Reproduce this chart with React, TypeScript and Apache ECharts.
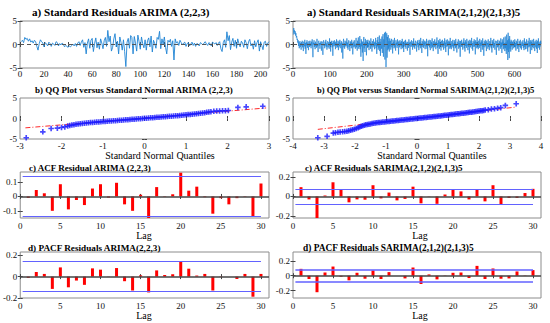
import React, { useEffect, useRef } from "react";
import * as echarts from "echarts";

// ---------- data ----------
const resArima = [
  0.6,0.9,0.4,1.5,1.1,1.3,0.7,1.2,0.5,0.8,0.3,0.9,0.6,-0.4,-1.2,0.2,1.0,0.6,0.3,-0.5,0.4,0.1,-0.3,
  0.5,0.2,-0.4,0.3,0.1,-0.2,0.6,0.4,-0.3,0.2,-0.1,0.3,0.1,-0.5,-0.2,-0.4,-0.6,-0.3,-0.5,-0.2,0.1,-0.3,0.2,
  -0.4,0.3,0.6,-0.2,0.5,1.0,-0.6,0.4,-2.0,0.3,1.2,-0.8,0.9,1.3,-1.5,0.2,1.4,-0.7,0.5,-1.0,1.2,0.3,-0.9,
  0.8,1.5,-0.4,3.0,0.6,1.8,-1.4,-0.6,1.2,2.3,-0.5,0.7,-2.0,1.6,0.4,-1.2,1.0,-1.5,-4.7,0.5,1.3,-0.8,1.9,
  1.5,-2.0,1.7,0.3,-1.4,2.0,0.6,-1.0,1.6,0.2,-0.7,1.0,-1.2,0.8,1.4,-0.5,1.8,-1.6,0.9,0.2,-0.8,1.5,1.1,
  2.8,-0.9,1.2,0.1,1.6,-0.6,-2.0,0.9,0.5,1.1,-0.4,0.8,-3.3,1.2,0.3,0.6,-0.2,0.9,0.4,-0.1,0.3,0.5,-0.4,
  0.2,0.4,-0.3,0.1,0.5,-0.2,0.3,-0.4,0.2,0.1,-0.3,0.4,0.2,-0.1,0.3,0.6,0.1,-0.2,0.4,0.2,-0.3,0.5,0.3,
  0.1,0.4,-0.2,0.3,0.6,-0.9,-1.5,0.4,1.0,-0.6,2.7,0.8,1.9,-1.1,0.5,1.3,-0.4,0.9,-0.8,1.2,0.2,-0.5,0.7,
  0.3,-0.6,1.0,0.4,-0.9,0.6,1.1,-0.3,0.2,-1.0,0.8,-0.5,0.4,1.0,-1.4,0.6,-0.2,-1.1,0.5,0.7,-0.4,0.3,0.6,
];

const resSarima = [
  2.1,3.5,2.6,3.0,2.2,2.8,1.9,2.4,1.5,1.8,1.0,1.2,0.4,0.9,-0.3,0.6,-0.8,0.2,0.7,-0.5,0.3,-1.1,0.5,-0.2,
  0.8,-0.6,0.1,-1.4,0.6,0.2,-0.4,1.0,-0.9,0.3,-2.0,0.5,-0.2,0.9,-0.7,0.4,-0.1,-1.2,0.7,0.1,-0.5,0.8,-0.3,0.2,
  -0.8,0.6,-0.2,1.1,-0.6,-2.7,0.4,0.0,0.9,-0.5,0.3,-1.0,0.6,-0.3,0.2,-0.7,1.2,-0.4,0.1,-1.6,0.5,0.8,-0.2,0.3,
  -0.9,0.4,-0.1,0.7,-1.3,0.2,0.6,-0.4,-2.2,0.5,0.9,-0.3,0.1,-0.8,0.6,-0.2,1.0,-0.5,0.2,-1.1,0.4,0.7,-0.6,0.0,
  0.5,-0.9,1.3,-0.3,0.2,-1.5,0.6,-0.1,0.8,-0.6,0.3,-2.4,0.7,0.1,-0.4,0.9,-0.2,0.4,-1.0,0.6,-0.3,1.1,-0.7,0.2,
  -0.5,0.8,-1.2,0.3,0.6,-0.4,1.0,-0.8,0.2,-0.1,0.7,-1.7,0.4,-0.3,-3.0,0.5,1.2,-0.6,0.3,-0.9,0.8,0.1,-0.4,0.6,
  -0.2,1.3,-0.7,0.4,-1.1,0.2,0.9,-0.5,0.1,-1.4,0.7,-0.3,0.5,-0.8,1.0,-0.2,0.3,-2.1,0.6,0.2,-0.6,0.9,-0.4,0.1,
  -0.9,0.5,1.4,-0.6,0.3,-1.3,0.8,-0.2,1.5,-0.9,0.4,-0.5,1.8,-1.0,0.2,-2.6,1.1,-0.4,0.7,-1.7,0.5,-3.5,0.9,1.6,
  -0.8,0.4,-1.6,1.2,-0.3,0.6,-2.3,0.9,0.2,-0.7,1.0,-0.5,0.3,-1.2,0.8,-0.1,0.5,-0.9,1.3,-0.4,0.2,-1.5,0.7,0.1,
  -0.6,1.1,-0.3,0.4,-1.0,0.6,-0.2,1.4,-0.8,0.3,-2.0,0.9,-0.4,1.6,-1.1,0.5,-0.7,1.9,-1.4,0.6,-2.4,1.2,0.2,-0.9,
  1.7,-1.8,0.8,2.2,-2.6,1.1,-0.5,2.5,-3.2,1.4,2.7,-4.8,0.9,2.4,-2.8,1.6,-1.2,2.0,-0.9,0.7,-1.5,1.3,-0.4,0.8,
  -1.1,0.5,1.2,-0.6,0.3,-1.9,1.0,-0.2,0.6,-0.8,1.4,-0.5,0.2,-1.3,0.9,-0.1,0.4,-0.7,1.1,-0.3,0.5,-2.1,0.8,0.1,
  -0.6,0.9,-0.2,0.4,-1.0,0.7,-0.4,1.2,-0.8,0.2,0.6,-1.6,0.3,-0.2,0.8,-0.5,1.0,-0.9,0.3,-0.1,0.6,-1.3,0.5,0.2,
  -0.7,1.1,-0.3,0.4,-2.2,0.6,0.1,-0.5,0.9,-0.2,0.3,-1.1,0.7,-0.4,1.3,-0.6,0.2,-0.9,0.5,0.8,-0.3,0.1,-1.5,0.6,
  -0.1,0.9,-0.6,0.3,-1.2,1.0,-0.2,0.5,-0.8,1.4,-0.4,0.2,-1.8,0.7,0.3,-0.5,1.1,-0.7,0.4,-0.2,0.8,-1.0,0.3,0.6,
  -0.4,1.2,-0.9,0.2,-2.5,0.8,0.4,-0.3,1.0,-0.6,0.1,-1.2,0.9,-0.2,0.5,-0.8,1.3,-0.5,0.2,-1.4,0.7,0.1,-0.6,1.1,
  -0.3,0.4,-1.0,0.6,-0.1,1.5,-0.7,0.3,-2.0,0.9,-0.4,0.6,-0.9,1.2,-0.2,0.4,-1.3,0.8,0.2,-0.6,1.0,-0.4,0.3,-1.1,
  0.7,-0.2,1.3,-0.8,0.4,-1.6,0.9,0.1,-0.5,1.1,-0.3,0.5,-2.3,0.8,-0.1,0.6,-0.9,1.4,-0.6,0.2,-1.0,0.7,0.3,-0.4,
  1.0,-0.7,0.2,-1.4,0.9,-0.3,0.5,-0.8,1.2,-0.5,0.1,-1.7,0.6,0.4,-0.2,1.1,-0.9,0.3,-0.6,0.8,-2.6,0.7,0.2,-0.5,
  1.0,-0.4,0.3,-1.1,0.6,-0.1,1.3,-0.8,0.4,-1.5,0.9,-0.3,0.5,-0.7,1.2,-0.2,0.1,-1.2,0.8,-0.5,0.4,-1.9,1.0,0.2,
  -0.6,0.8,-0.2,1.4,-0.9,0.3,-1.3,0.7,0.1,-0.5,1.1,-0.4,0.6,-2.1,0.9,-0.1,0.5,-0.8,1.5,-0.6,0.2,-1.0,0.8,0.3,
  -0.7,1.2,-0.3,0.4,-1.6,0.9,-0.2,0.6,-1.1,1.3,-0.5,0.2,-2.4,0.7,0.4,-0.6,1.0,-0.3,0.5,-1.4,0.8,-0.1,0.3,-0.9,
  1.1,-0.5,0.2,-1.2,0.7,0.3,-0.4,1.4,-0.8,0.1,-1.7,0.9,-0.2,0.5,-0.7,1.2,-0.4,0.3,-1.1,0.6,0.8,-0.3,-2.2,0.7,
  0.2,-0.6,1.0,-0.4,0.3,-1.3,0.8,-0.1,0.5,-0.9,1.3,-0.5,0.4,-1.8,1.1,-0.2,0.6,-1.0,1.5,-0.7,0.3,-1.4,1.7,-0.8,
  0.4,-2.0,2.1,-1.2,0.9,-3.3,2.5,-1.6,1.2,-2.9,1.8,-0.9,0.6,-1.5,1.0,-0.4,0.7,-1.1,0.5,-0.3,0.9,-0.8,0.2,-0.5,
  1.1,-0.6,0.3,-1.3,0.8,-0.2,0.5,-0.9,1.2,-0.4,0.1,-1.6,0.7,0.3,-0.5,1.0,-0.8,0.2,-1.1,0.6,0.4,-0.3,0.9,-0.7,
  0.2,-1.2,1.3,-0.5,0.6,-1.0,0.4,-0.2,1.1,-0.9,0.3,-1.5,0.8,0.1,-0.6,1.4,-0.4,0.5,-2.0,0.9,-0.3,0.6,-1.2,1.0,
  -0.5,0.3,-0.8,1.2,-0.2,0.4,-1.4,0.7,0.1,-0.6,1.0,-0.9,0.5,-1.8,0.8,-0.3,1.3,-0.7,0.2,-1.1,0.6,-0.4,0.8,0.1,
];

// QQ plot: [theoretical quantile, sample quantile]
const qqArima: [number, number][] = [
  [-2.85,-4.7],[-2.45,-3.25],[-2.25,-2.45],[-2.1,-2.35],[-2.0,-2.2],[-1.92,-2.05],[-1.85,-1.85],
  [-1.8,-1.7],[-1.75,-1.6],[-1.7,-1.5],[-1.65,-1.42],[-1.6,-1.35],[-1.55,-1.28],[-1.5,-1.22],
  [-1.45,-1.16],[-1.4,-1.1],[-1.35,-1.05],[-1.3,-1.0],[-1.25,-0.96],[-1.2,-0.92],[-1.15,-0.88],
  [-1.1,-0.84],[-1.05,-0.8],[-1.0,-0.76],[-0.95,-0.72],[-0.9,-0.68],[-0.85,-0.64],[-0.8,-0.6],
  [-0.75,-0.56],[-0.7,-0.52],[-0.65,-0.48],[-0.6,-0.44],[-0.55,-0.4],[-0.5,-0.36],[-0.45,-0.32],
  [-0.4,-0.28],[-0.35,-0.24],[-0.3,-0.2],[-0.25,-0.16],[-0.2,-0.12],[-0.15,-0.08],[-0.1,-0.04],
  [-0.05,0.0],[0,0.04],[0.05,0.08],[0.1,0.12],[0.15,0.16],[0.2,0.2],[0.25,0.24],[0.3,0.28],
  [0.35,0.32],[0.4,0.36],[0.45,0.4],[0.5,0.44],[0.55,0.48],[0.6,0.52],[0.65,0.57],[0.7,0.62],
  [0.75,0.66],[0.8,0.7],[0.85,0.75],[0.9,0.8],[0.95,0.85],[1.0,0.9],[1.05,0.95],[1.1,1.0],
  [1.15,1.06],[1.2,1.12],[1.25,1.18],[1.3,1.24],[1.35,1.3],[1.4,1.36],[1.45,1.42],[1.5,1.5],
  [1.55,1.58],[1.6,1.65],[1.67,1.75],[1.74,1.8],[1.81,1.83],[1.88,1.86],[1.95,1.9],[2.02,1.95],
  [2.25,2.7],[2.45,2.85],[2.85,3.0],
];
const qqArimaLine: [number, number][] = [[-2.87,-2.28],[2.93,2.57]];

const qqSarima: [number, number][] = [
  [-3.2,-4.7],[-2.9,-4.35],[-2.7,-3.55],[-2.63,-3.45],[-2.55,-3.35],[-2.48,-3.3],[-2.4,-3.25],
  [-2.33,-3.2],[-2.26,-3.1],[-2.2,-3.0],[-2.14,-2.88],[-2.08,-2.75],[-2.02,-2.6],[-1.96,-2.42],
  [-1.9,-2.25],[-1.85,-2.08],[-1.8,-1.92],[-1.75,-1.78],[-1.7,-1.65],[-1.65,-1.54],[-1.6,-1.45],
  [-1.55,-1.38],[-1.5,-1.32],[-1.45,-1.22],[-1.4,-1.14],[-1.35,-1.08],[-1.3,-1.03],[-1.25,-0.99],
  [-1.2,-0.95],[-1.15,-0.91],[-1.1,-0.87],[-1.05,-0.83],[-1.0,-0.79],[-0.95,-0.75],[-0.9,-0.71],
  [-0.85,-0.67],[-0.8,-0.63],[-0.75,-0.59],[-0.7,-0.55],[-0.65,-0.51],[-0.6,-0.47],[-0.55,-0.43],
  [-0.5,-0.39],[-0.45,-0.35],[-0.4,-0.31],[-0.35,-0.27],[-0.3,-0.23],[-0.25,-0.19],[-0.2,-0.15],
  [-0.15,-0.11],[-0.1,-0.07],[-0.05,-0.03],[0,0.02],[0.05,0.06],[0.1,0.1],[0.15,0.14],[0.2,0.18],
  [0.25,0.22],[0.3,0.26],[0.35,0.3],[0.4,0.35],[0.45,0.39],[0.5,0.43],[0.55,0.47],[0.6,0.51],
  [0.65,0.56],[0.7,0.6],[0.75,0.64],[0.8,0.69],[0.85,0.73],[0.9,0.77],[0.95,0.82],[1.0,0.86],
  [1.05,0.9],[1.1,0.95],[1.15,0.99],[1.2,1.04],[1.25,1.08],[1.3,1.13],[1.35,1.17],[1.4,1.22],
  [1.45,1.26],[1.5,1.31],[1.55,1.36],[1.6,1.4],[1.65,1.45],[1.7,1.5],[1.75,1.55],[1.8,1.6],
  [1.85,1.65],[1.9,1.7],[1.95,1.75],[2.0,1.8],[2.05,1.86],[2.1,1.92],[2.15,1.98],[2.2,2.05],
  [2.3,2.15],[2.4,2.3],[2.5,2.4],[2.6,2.5],[2.7,2.65],[2.85,3.2],[3.2,3.6],
];
const qqSarimaLine: [number, number][] = [[-3.2,-2.65],[3.15,2.75]];

const lags = [1,2,3,4,5,6,7,8,9,10,11,12,13,14,15,16,17,18,19,20,21,22,23,24,25,26,27,28,29,30];
const acfArima = [
  -0.01,0.045,0.022,-0.1,0.085,-0.09,-0.025,-0.06,0.055,0.085,-0.008,0.095,-0.055,-0.1,0.012,
  -0.155,0.065,-0.003,0.015,0.165,0.04,0.068,-0.005,-0.12,-0.012,-0.055,-0.012,-0.003,-0.14,0.09,
];
const acfSarima = [
  0.095,-0.03,-0.23,0.01,0.145,0.07,-0.06,-0.03,-0.033,0.115,-0.02,0.04,-0.04,-0.025,0.1,
  -0.07,0.003,-0.075,0.02,0.072,0.052,-0.03,0.075,-0.05,0.115,-0.085,-0.015,-0.015,0.035,0.078,
];
const pacfArima = [
  -0.012,0.043,0.025,-0.115,0.086,-0.1,-0.037,-0.077,0.077,0.065,0.002,0.08,-0.043,-0.13,0.012,
  -0.148,0.058,0.015,0.022,0.145,0.074,0.01,0.025,-0.13,0.003,0.0,-0.022,0.025,-0.188,0.025,
];
const pacfSarima = [
  0.093,-0.044,-0.222,0.044,0.124,-0.013,-0.062,0.04,-0.04,0.071,-0.044,0.049,0.0,-0.036,0.111,
  -0.111,0.018,-0.049,0.004,0.04,0.044,-0.031,0.133,-0.044,0.098,-0.04,-0.036,0.058,0.004,0.076,
];
const confArima = 0.139;
const confSarima = 0.077;

const ticksResArima = [0,20,40,60,80,100,120,140,160,180,200];
const ticksResSarima = [0,100,200,300,400,500,600];
const ticksRes = [-5,0,5];
const ticksQqArima = [-3,-2,-1,0,1,2,3];
const ticksQqSarima = [-4,-3,-2,-1,0,1,2,3,4];
const ticksLag = [0,5,10,15,20,25,30];
const ticksAcfArima = [-0.1,0,0.1];
const ticksAcf2 = [-0.2,0,0.2];

const titles = [
  "a) Standard Residuals ARIMA (2,2,3)",
  "a) Standard Residuals SARIMA(2,1,2)(2,1,3)5",
  "b) QQ Plot versus Standard Normal ARIMA (2,2,3)",
  "b) QQ Plot versus Standard Normal SARIMA(2,1,2)(2,1,3)5",
  "c) ACF Residual ARIMA (2,2,3)",
  "c) ACF Residuals SARIMA(2,1,2)(2,1,3)5",
  "d) PACF Residuals ARIMA(2,2,3)",
  "d) PACF Residuals SARIMA(2,1,2)(2,1,3)5",
];

// ---------- layout ----------
const FONT = "Liberation Serif, Times New Roman, serif";
const cols = [{ left: 20, width: 249 }, { left: 293, width: 248 }];
const rows = [
  { top: 21, height: 47 },
  { top: 98, height: 41 },
  { top: 172, height: 46 },
  { top: 252, height: 46 },
];
const titlePos = [
  [32, 12], [307, 12], [35, 90], [317, 90], [29, 168], [305, 168], [28, 248], [303, 248],
];
const titleSize = [11.1, 10.9, 9, 8.5, 9, 9, 9.2, 9.4];

type Spec = { xMin: number; xMax: number; xT: number[]; yMin: number; yMax: number; yT: number[]; xm: number };
const specs: Spec[] = [
  { xMin: 0, xMax: 207, xT: ticksResArima, yMin: -5, yMax: 5, yT: ticksRes, xm: 1 },
  { xMin: 0, xMax: 672, xT: ticksResSarima, yMin: -5, yMax: 5, yT: ticksRes, xm: 1 },
  { xMin: -3, xMax: 3, xT: ticksQqArima, yMin: -5, yMax: 5, yT: ticksRes, xm: 2 },
  { xMin: -4, xMax: 4, xT: ticksQqSarima, yMin: -5, yMax: 5, yT: ticksRes, xm: 2 },
  { xMin: 0, xMax: 31, xT: ticksLag, yMin: -0.15, yMax: 0.17, yT: ticksAcfArima, xm: 3 },
  { xMin: 0, xMax: 31, xT: ticksLag, yMin: -0.22, yMax: 0.25, yT: ticksAcf2, xm: 3 },
  { xMin: 0, xMax: 31, xT: ticksLag, yMin: -0.2, yMax: 0.23, yT: ticksAcf2, xm: 3 },
  { xMin: 0, xMax: 31, xT: ticksLag, yMin: -0.3, yMax: 0.32, yT: ticksAcf2, xm: 3 },
];

function axis(g: number, min: number, max: number, ticks: number[], position: string, labels: boolean, margin: number) {
  return {
    type: "value",
    gridIndex: g,
    min,
    max,
    position,
    scale: true,
    axisLine: { show: false },
    axisTick: { show: true, inside: true, length: 2.5, customValues: ticks, lineStyle: { color: "#444", width: 1 } },
    axisLabel: {
      show: labels,
      customValues: ticks,
      fontFamily: FONT,
      fontSize: 9,
      color: "#111",
      margin,
    },
    splitLine: { show: false },
  };
}

function buildOption() {
  const grid: any[] = [];
  const xAxis: any[] = [];
  const yAxis: any[] = [];
  rows.forEach((r) =>
    cols.forEach((c) =>
      grid.push({
        left: c.left, top: r.top, width: c.width, height: r.height,
        show: true, borderColor: "#8c8c8c", borderWidth: 1, backgroundColor: "transparent",
      })
    )
  );
  specs.forEach((s, g) => {
    xAxis.push(axis(g, s.xMin, s.xMax, s.xT, "bottom", true, s.xm));
    xAxis.push(axis(g, s.xMin, s.xMax, s.xT, "top", false, 0));
    yAxis.push(axis(g, s.yMin, s.yMax, s.yT, "left", true, 3));
    yAxis.push(axis(g, s.yMin, s.yMax, s.yT, "right", false, 0));
  });

  const series: any[] = [];
  const zeroDashed = {
    silent: true, symbol: ["none", "none"], label: { show: false },
    lineStyle: { color: "#555", type: [4, 3], width: 1 },
    data: [{ yAxis: 0 }],
  };
  [resArima, resSarima].forEach((arr, g) => {
    series.push({
      type: "line", xAxisIndex: 2 * g, yAxisIndex: 2 * g,
      data: arr.map((v, i) => [i + 1, v]),
      showSymbol: false, lineStyle: { color: "#1f83d4", width: g === 0 ? 0.9 : 0.7 },
      markLine: zeroDashed, z: 3,
    });
  });

  const cross = "path://M-1,-0.3H-0.3V-1H0.3V-0.3H1V0.3H0.3V1H-0.3V0.3H-1Z";
  [[qqArima, qqArimaLine], [qqSarima, qqSarimaLine]].forEach(([pts, ln], k) => {
    const g = 2 + k;
    series.push({
      type: "line", xAxisIndex: 2 * g, yAxisIndex: 2 * g, data: ln, showSymbol: false,
      lineStyle: { color: "#ff2a2a", width: 1, type: [5, 2, 1, 2] }, z: 2,
    });
    series.push({
      type: "scatter", xAxisIndex: 2 * g, yAxisIndex: 2 * g, data: pts,
      symbol: cross, symbolSize: 5.5, itemStyle: { color: "#1a1aff" }, z: 3,
    });
  });

  const bars = [acfArima, acfSarima, pacfArima, pacfSarima];
  const confs = [confArima, confSarima, confArima, confSarima];
  bars.forEach((vals, k) => {
    const g = 4 + k;
    const c = confs[k];
    const blue = { color: "#6262ff", width: k === 3 ? 1.6 : 1.2, type: "solid" };
    series.push({
      type: "bar", xAxisIndex: 2 * g, yAxisIndex: 2 * g,
      data: lags.map((l, i) => [l, vals[i]]),
      barWidth: 3, itemStyle: { color: "#ff0000" }, z: 3,
      markLine: {
        silent: true, symbol: ["none", "none"], label: { show: false },
        data: [
          { yAxis: 0, lineStyle: { color: "#444", width: 1.5, type: "solid" } },
          [{ coord: [0.3, c], lineStyle: blue }, { coord: [30, c] }],
          [{ coord: [0.3, -c], lineStyle: blue }, { coord: [30, -c] }],
        ],
      },
    });
  });

  const graphic: any[] = [];
  titles.forEach((t, i) => {
    graphic.push({
      type: "text", x: titlePos[i][0], y: titlePos[i][1], z: 10,
      style: { text: t, fill: "#000", font: `bold ${titleSize[i]}px ${FONT}`, verticalAlign: "middle", align: "left" },
    });
  });
  const axisNames: [string, number, number][] = [
    ["Standard Normal Quantiles", 160, 155],
    ["Standard Normal Quantiles", 432, 155],
    ["Lag", 144, 235.5],
    ["Lag", 420, 235.5],
    ["Lag", 144, 315.5],
    ["Lag", 420, 315.5],
  ];
  axisNames.forEach(([t, x, y]) => {
    graphic.push({
      type: "text", x, y, z: 10,
      style: { text: t, fill: "#000", font: `10px ${FONT}`, verticalAlign: "middle", align: "center" },
    });
  });

  return { animation: false, backgroundColor: "#fff", grid, xAxis, yAxis, series, graphic };
}

export default function App() {
  const ref = useRef<HTMLDivElement>(null);
  useEffect(() => {
    if (!ref.current) return;
    const chart = echarts.init(ref.current, null, { renderer: "svg" });
    chart.setOption(buildOption() as any);
    return () => chart.dispose();
  }, []);
  return (
    <div
      ref={ref}
      style={{ position: "fixed", left: 0, top: 0, width: 550, height: 323, background: "#fff" }}
    />
  );
}
